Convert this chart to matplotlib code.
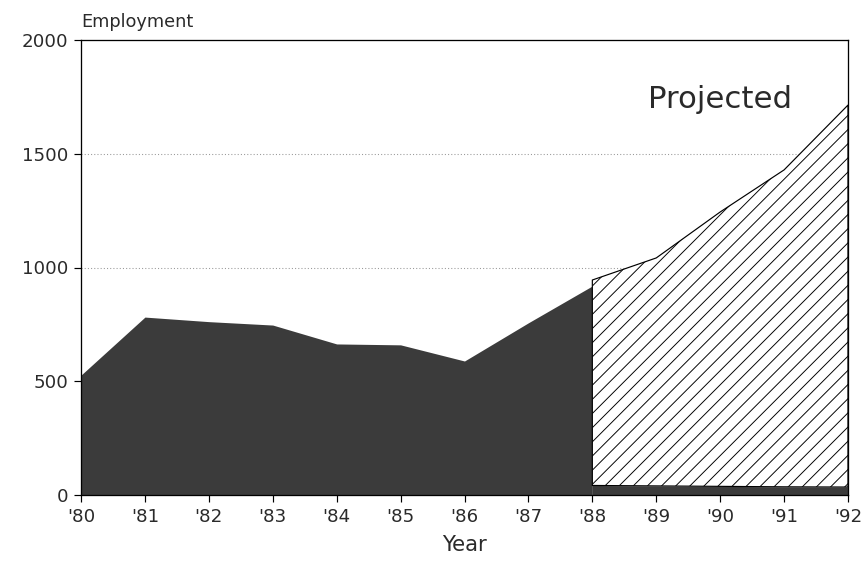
import matplotlib
matplotlib.use("Agg")
import matplotlib.pyplot as plt
import numpy as np

# ---- data ----
years = [1980, 1981, 1982, 1983, 1984, 1985, 1986, 1987, 1988, 1989, 1990, 1991, 1992]
tick_labels = ["'80", "'81", "'82", "'83", "'84", "'85", "'86", "'87", "'88", "'89", "'90", "'91", "'92"]
actual_years = [1980, 1981, 1982, 1983, 1984, 1985, 1986, 1987, 1988]
actual_values = [527, 782, 762, 747, 664, 660, 589, 757, 919]
proj_years = [1988, 1989, 1990, 1991, 1992]
proj_values = [945, 1042, 1244, 1429, 1714]
proj_base = [42, 40, 38, 36, 35]
y_ticks = [0, 500, 1000, 1500, 2000]
grid_levels = [1000, 1500]

DPI = 85
fig = plt.figure(figsize=(864 / DPI, 568 / DPI), dpi=DPI)
ax = fig.add_axes([81 / 864, 1 - 495 / 568, (848 - 81) / 864, (495 - 40) / 568])

dark = "#3b3b3b"
txt = "#2a2a2a"
plt.rcParams['hatch.linewidth'] = 0.8

for g in grid_levels:
    ax.axhline(g, color="#9a9a9a", linestyle=(0, (1, 2)), linewidth=0.9, zorder=0.5)

ax.fill_between(actual_years, 0, actual_values, color=dark, linewidth=0, zorder=2)
ax.fill_between(proj_years, 0, proj_base, color=dark, linewidth=0, zorder=2)
ax.fill_between(proj_years, proj_base, proj_values, facecolor="white", edgecolor="black",
                hatch="//", linewidth=1.0, zorder=3)

ax.set_xlim(years[0], years[-1])
ax.set_ylim(0, 2000)
ax.set_xticks(years)
ax.set_xticklabels(tick_labels)
ax.set_yticks(y_ticks)
ax.tick_params(axis="both", direction="out", length=6, width=1.0, colors="black",
               labelsize=15.5, labelcolor=txt, pad=5)
for sp in ax.spines.values():
    sp.set_linewidth(1.1)
    sp.set_color("black")
    sp.set_zorder(5)

ax.text(0, 1.0286, "Employment", transform=ax.transAxes, ha="left", va="baseline",
        fontsize=15, color=txt)
ax.text(0.927, 0.851, "Projected", transform=ax.transAxes, ha="right", va="baseline",
        fontsize=26, color=txt, zorder=6)
ax.set_xlabel("Year", fontsize=18, color=txt, labelpad=8)

fig.savefig("out.png", dpi=DPI)
